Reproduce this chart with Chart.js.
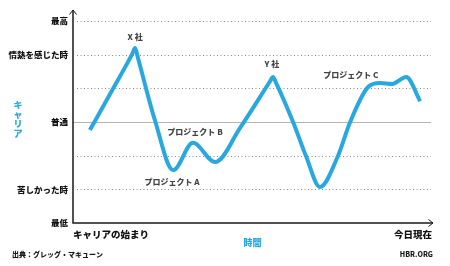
<!DOCTYPE html>
<html lang="ja">
<head>
  <meta charset="UTF-8">
  <title>キャリアの浮き沈み</title>
  <script src="https://cdn.jsdelivr.net/npm/chart.js"></script>
  <style>
    body { margin: 0; background: #fff; }
    .wrap { width: 450px; height: 266px; }
  </style>
</head>
<body>
<div class="wrap">
  <canvas id="myChart" width="450" height="266"></canvas>
</div>

<script>
  // time runs 0..100 along the x axis, career level runs -3..3
  const timeValues = [4.7, 11.1, 16.4, 17.3, 18.1, 22.8, 27.9, 33.4, 39.6, 46.5,
                      54.9, 55.7, 56.5, 61.3, 64.9, 68.8, 73.8, 77.2, 82.2, 85.5,
                      88.9, 92.8, 96.7];
  const careerValues = [-0.24, 0.98, 2.0, 2.2, 1.9, 0.06, -1.43, -0.62, -1.19, -0.18,
                        1.21, 1.34, 1.18, 0, -1.01, -1.93, -1.01, 0, 1.04, 1.16,
                        1.13, 1.34, 0.62];

  const levelTicks = [3, 2, 1, 0, -1, -2, -3];
  const levelLabels = { '3': '最高', '2': '情熱を感じた時', '0': '普通', '-2': '苦しかった時', '-3': '最低' };
  const dottedLevels = [3, 2, 1, -1, -2];
  const solidLevels = [0];

  const timeTicks = [0, 100];
  const timeLabels = ['キャリアの始まり', '今日現在'];

  const noteTexts = ['X 社', 'プロジェクト B', 'プロジェクト A', 'Y 社', 'プロジェクト C'];
  const noteX = [17.3, 34.0, 27.6, 55.4, 77.4];
  const noteY = [2.52, -0.30, -1.78, 1.72, 1.40];

  const blue = '#29a8e0';
  const fontFamily = '"Noto Sans CJK JP", "Noto Sans", sans-serif';

  // dotted/solid guide lines, axes with arrows, notes and footer
  const decorPlugin = {
    id: 'decor',
    beforeDatasetsDraw(chart) {
      const { ctx, chartArea } = chart;
      const y = chart.scales.y;
      ctx.save();
      ctx.lineWidth = 1;
      ctx.strokeStyle = '#8a8a8a';
      ctx.setLineDash([1, 2.5]);
      dottedLevels.forEach(v => {
        const py = Math.round(y.getPixelForValue(v)) + 0.5;
        ctx.beginPath();
        ctx.moveTo(chartArea.left + 4, py);
        ctx.lineTo(chartArea.right - 1, py);
        ctx.stroke();
      });
      ctx.setLineDash([]);
      ctx.strokeStyle = '#b4b4b4';
      solidLevels.forEach(v => {
        const py = Math.round(y.getPixelForValue(v)) + 0.5;
        ctx.beginPath();
        ctx.moveTo(chartArea.left, py);
        ctx.lineTo(chartArea.right - 1, py);
        ctx.stroke();
      });
      ctx.restore();
    },
    afterDraw(chart) {
      const { ctx } = chart;
      const xs = chart.scales.x, ys = chart.scales.y;
      const x0 = xs.getPixelForValue(0);
      const yb = ys.getPixelForValue(-3);
      const yt = ys.getPixelForValue(3) - 11;
      const xr = xs.getPixelForValue(100) + 1;
      ctx.save();
      ctx.strokeStyle = '#1a1a1a';
      ctx.lineWidth = 1.5;
      ctx.beginPath();
      ctx.moveTo(x0, yt);
      ctx.lineTo(x0, yb);
      ctx.lineTo(xr, yb);
      ctx.stroke();
      ctx.lineWidth = 1;
      ctx.beginPath();
      ctx.moveTo(x0 - 3.5, yt + 4.5);
      ctx.lineTo(x0, yt);
      ctx.lineTo(x0 + 3.5, yt + 4.5);
      ctx.moveTo(xr - 4.5, yb - 3.5);
      ctx.lineTo(xr, yb);
      ctx.lineTo(xr - 4.5, yb + 3.5);
      ctx.stroke();

      // notes on the curve
      ctx.fillStyle = '#454545';
      ctx.font = '900 8px ' + fontFamily;
      ctx.textAlign = 'center';
      ctx.textBaseline = 'middle';
      noteTexts.forEach((t, i) => {
        ctx.fillText(t, xs.getPixelForValue(noteX[i]), ys.getPixelForValue(noteY[i]));
      });

      // vertical y title
      ctx.fillStyle = blue;
      ctx.font = '900 9px ' + fontFamily;
      const yChars = ['キ', 'ャ', 'リ', 'ア'];
      yChars.forEach((c, i) => {
        ctx.fillText(c, 18, 105 + i * 9.5);
      });

      // footer
      ctx.fillStyle = '#1a1a1a';
      ctx.font = '900 7px ' + fontFamily;
      ctx.textAlign = 'left';
      ctx.fillText('出典：グレッグ・マキューン', 12, 254);
      ctx.textAlign = 'right';
      ctx.fillText('HBR.ORG', 433, 254);
      ctx.restore();
    }
  };

  const ctx = document.getElementById('myChart').getContext('2d');
  new Chart(ctx, {
    type: 'line',
    data: {
      datasets: [{
        data: timeValues.map((t, i) => ({ x: t, y: careerValues[i] })),
        borderColor: blue,
        borderWidth: 4,
        pointRadius: 0,
        cubicInterpolationMode: 'monotone',
        borderJoinStyle: 'round',
        borderCapStyle: 'butt',
        fill: false
      }]
    },
    options: {
      responsive: false,
      animation: false,
      layout: { padding: { left: 0, right: 18, top: 21, bottom: 18 } },
      plugins: { legend: { display: false }, tooltip: { enabled: false } },
      scales: {
        x: {
          type: 'linear',
          min: 0,
          max: 100,
          afterBuildTicks: s => { s.ticks = timeTicks.map(v => ({ value: v })); },
          afterFit: s => { s.height = 25; },
          grid: { display: false, drawTicks: false },
          border: { display: false },
          ticks: {
            align: 'inner',
            padding: 6,
            color: '#111',
            font: { family: fontFamily, size: 9.5, weight: 900 },
            callback: v => timeLabels[timeTicks.indexOf(v)]
          },
          title: {
            display: true,
            text: '時間',
            color: blue,
            padding: { top: 0, bottom: 0 },
            font: { family: fontFamily, size: 9, weight: 900 }
          }
        },
        y: {
          min: -3,
          max: 3,
          afterBuildTicks: s => { s.ticks = levelTicks.map(v => ({ value: v })); },
          afterFit: s => { s.width = 73; },
          grid: { display: false, drawTicks: false },
          border: { display: false },
          ticks: {
            padding: 5,
            color: '#111',
            font: { family: fontFamily, size: 8.5, weight: 900 },
            callback: v => levelLabels[String(v)] || ''
          }
        }
      }
    },
    plugins: [decorPlugin]
  });
</script>
</body>
</html>
